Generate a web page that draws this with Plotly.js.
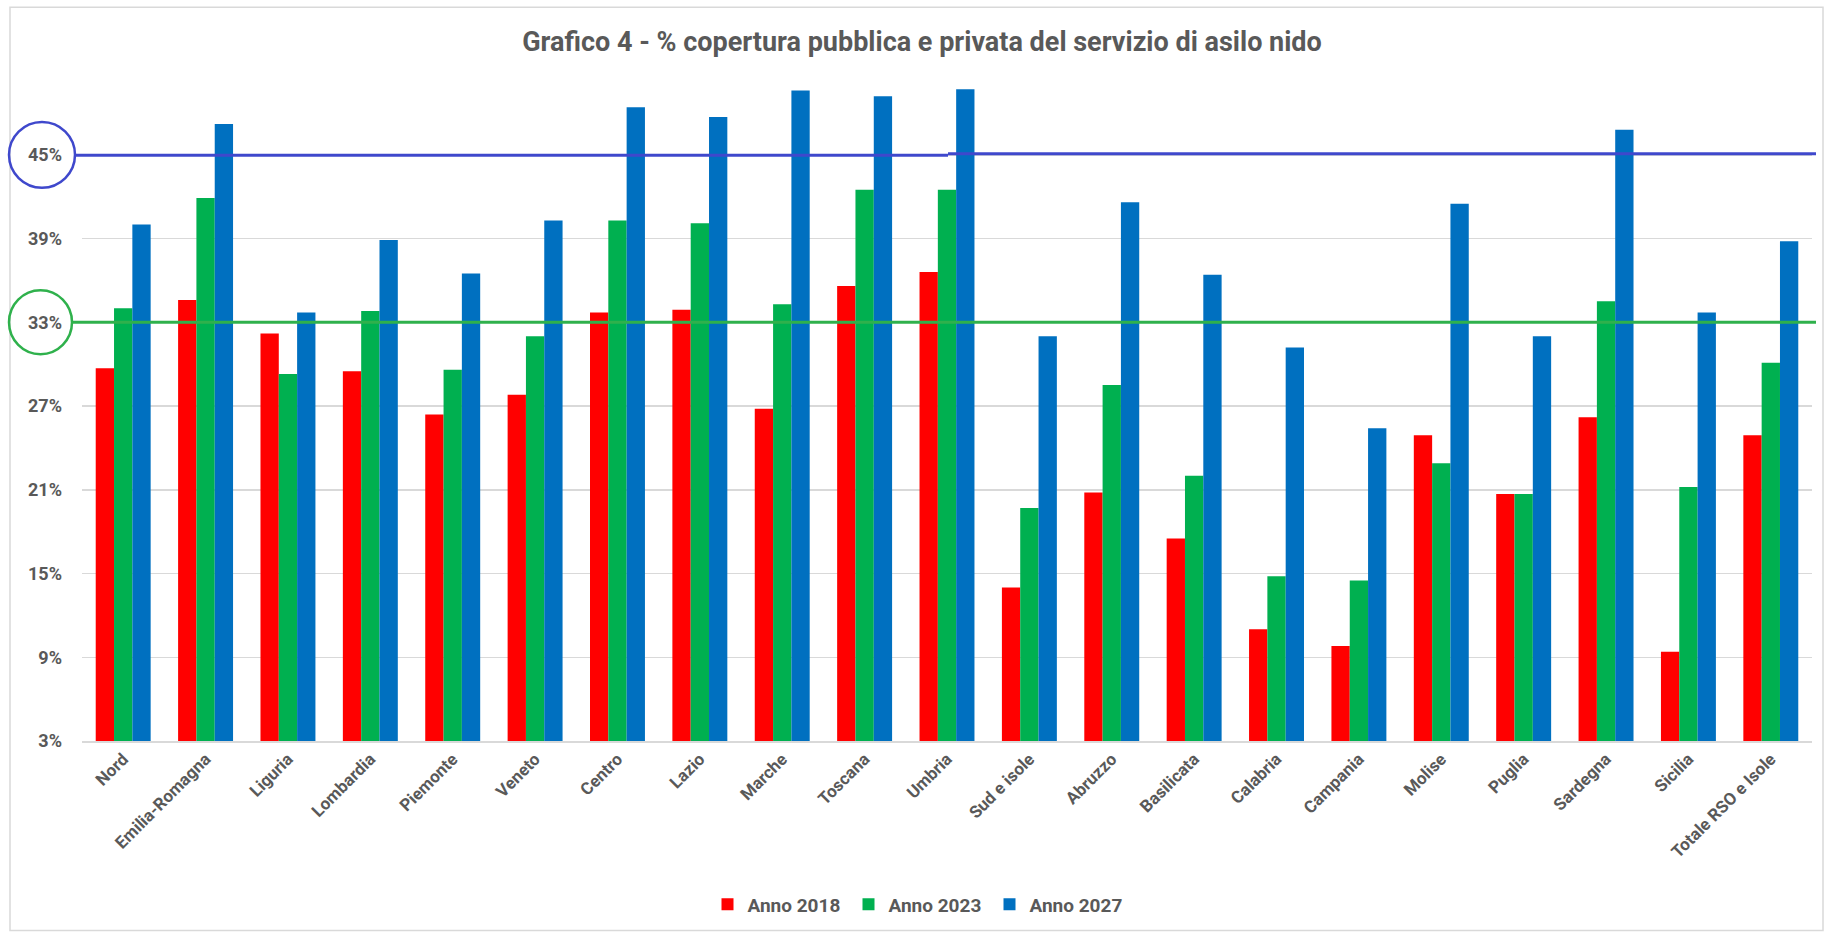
<!DOCTYPE html>
<html>
<head>
<meta charset="utf-8">
<script src="https://cdn.plot.ly/plotly-3.0.1.min.js"></script>
<style>
  html, body { margin: 0; padding: 0; background: #ffffff; }
  #chart { width: 1826px; height: 935px; }
</style>
</head>
<body>
<div id="chart"></div>
<script>
// ---- Data ----
const categories = ["Nord", "Emilia-Romagna", "Liguria", "Lombardia", "Piemonte", "Veneto",
  "Centro", "Lazio", "Marche", "Toscana", "Umbria", "Sud e isole", "Abruzzo", "Basilicata",
  "Calabria", "Campania", "Molise", "Puglia", "Sardegna", "Sicilia", "Totale RSO e Isole"];

const anno2018 = [0.297, 0.346, 0.322, 0.295, 0.264, 0.278, 0.337, 0.339, 0.268, 0.356, 0.366,
  0.140, 0.208, 0.175, 0.110, 0.098, 0.249, 0.207, 0.262, 0.094, 0.249];
const anno2023 = [0.340, 0.419, 0.293, 0.338, 0.296, 0.320, 0.403, 0.401, 0.343, 0.425, 0.425,
  0.197, 0.285, 0.220, 0.148, 0.145, 0.229, 0.207, 0.345, 0.212, 0.301];
const anno2027 = [0.400, 0.472, 0.337, 0.389, 0.365, 0.403, 0.484, 0.477, 0.496, 0.492, 0.497,
  0.320, 0.416, 0.364, 0.312, 0.254, 0.415, 0.320, 0.468, 0.337, 0.388];

const seriesNames = ["Anno 2018", "Anno 2023", "Anno 2027"];
const seriesColors = ["#ff0000", "#00b050", "#0070c0"];

const yTickVals = [0.03, 0.09, 0.15, 0.21, 0.27, 0.33, 0.39, 0.45];
const yTickText = ["3%", "9%", "15%", "21%", "27%", "33%", "39%", "45%"];

const targetBlue = 0.45;   // obiettivo 45%
const targetGreen = 0.33;  // obiettivo 33%

const titleText = "Grafico 4 - % copertura pubblica e privata del servizio di asilo nido";

// ---- Layout geometry ----
const W = 1826, H = 935;
const ML = 82, MR = 14, MT = 85, MB = 192;
const PW = W - ML - MR, PH = H - MT - MB;
const px = (x) => (x - ML) / PW;          // pixel x -> paper x
const py = (y) => (H - MB - y) / PH;      // pixel y -> paper y
const yPerPx = (0.50 - 0.03) / PH;        // data units per pixel

const FONT = "Roboto, 'Open Sans', sans-serif";
const TXT = "#595959";

const traces = [anno2018, anno2023, anno2027].map((vals, i) => ({
  type: "bar",
  name: seriesNames[i],
  x: categories,
  y: vals,
  marker: { color: seriesColors[i] },
  hoverinfo: "skip"
}));

const shapes = [
  // chart area border
  { type: "rect", xref: "paper", yref: "paper", x0: px(10), x1: px(1823), y0: py(933), y1: py(7),
    line: { color: "#d9d9d9", width: 1.5 }, layer: "below" },
  // blue target line (two segments with a slight step, as in the original)
  { type: "line", xref: "paper", yref: "y", x0: px(75), x1: px(948),
    y0: targetBlue - 0.5 * yPerPx, y1: targetBlue - 0.5 * yPerPx,
    line: { color: "#3f48cc", width: 3 } },
  { type: "line", xref: "paper", yref: "y", x0: px(948), x1: px(1816),
    y0: targetBlue + 1 * yPerPx, y1: targetBlue + 1 * yPerPx,
    line: { color: "#3f48cc", width: 3 } },
  // green target line
  { type: "line", xref: "paper", yref: "y", x0: px(72), x1: px(1816),
    y0: targetGreen, y1: targetGreen,
    line: { color: "#2fb14c", width: 3 } },
  // circles around the tick labels
  { type: "circle", xref: "paper", yref: "y", x0: px(9), x1: px(75),
    y0: targetBlue - 33 * yPerPx, y1: targetBlue + 33 * yPerPx,
    line: { color: "#3f48cc", width: 2.5 } },
  { type: "circle", xref: "paper", yref: "y", x0: px(9), x1: px(72),
    y0: targetGreen - 32 * yPerPx, y1: targetGreen + 32 * yPerPx,
    line: { color: "#2fb14c", width: 2.5 } }
];

const layout = {
  width: W, height: H,
  margin: { l: ML, r: MR, t: MT, b: MB, pad: 0 },
  paper_bgcolor: "#ffffff",
  plot_bgcolor: "#ffffff",
  font: { family: FONT, color: TXT },
  title: {
    text: "<b>" + titleText + "</b>",
    font: { family: FONT, size: 27, color: TXT },
    x: 922 / W, xanchor: "center",
    y: 1 - 42 / H, yanchor: "middle", yref: "container"
  },
  barmode: "group",
  bargap: 0.333,
  bargroupgap: 0,
  showlegend: true,
  legend: {
    orientation: "h",
    x: px(919), xanchor: "center",
    y: py(907), yanchor: "middle",
    font: { family: FONT, size: 19, color: TXT, weight: "bold" },
    entrywidth: 96, entrywidthmode: "pixels",
    itemclick: false, itemdoubleclick: false
  },
  xaxis: {
    type: "category",
    tickangle: -45,
    tickfont: { family: FONT, size: 17, color: TXT, weight: "bold" },
    showgrid: false,
    showline: true, linecolor: "#d9d9d9", linewidth: 1.5,
    ticks: "", zeroline: false,
    fixedrange: true
  },
  yaxis: {
    range: [0.03, 0.50],
    tickvals: yTickVals,
    ticktext: yTickText,
    tickfont: { family: FONT, size: 18, color: TXT, weight: "bold" },
    showgrid: true, gridcolor: "#d9d9d9", gridwidth: 1.5,
    zeroline: false, showline: false, ticks: "",
    ticklabelstandoff: 19,
    fixedrange: true
  },
  shapes: shapes
};

Plotly.newPlot("chart", traces, layout, { displayModeBar: false, staticPlot: true });
</script>
</body>
</html>
